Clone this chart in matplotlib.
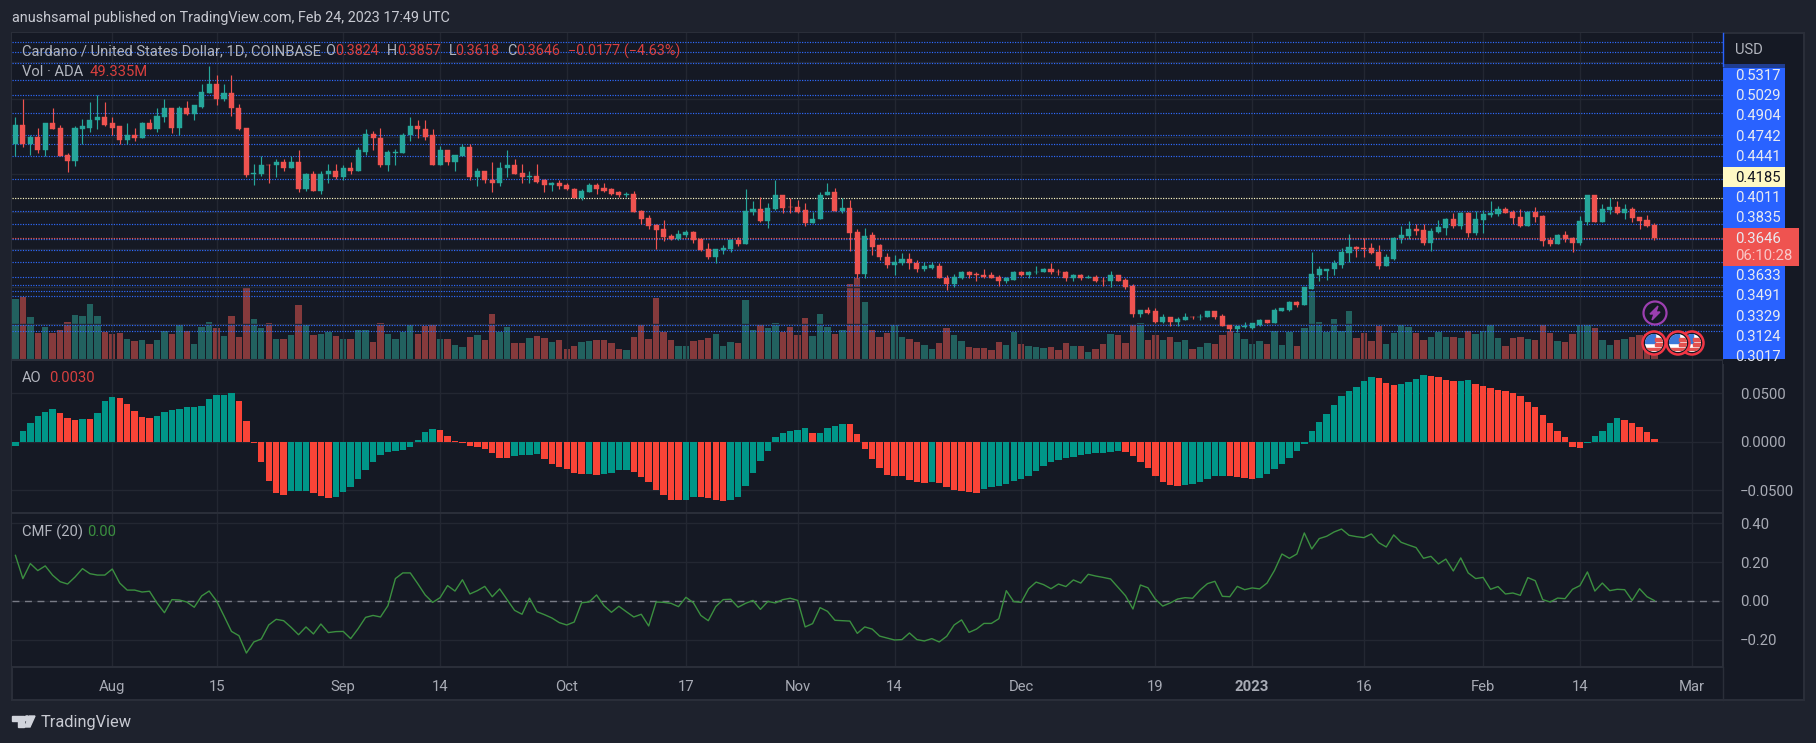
import matplotlib
matplotlib.use('Agg')
from matplotlib import pyplot as plt
import pandas as pd

#Daily candles, first one is Jul 19 2022
dates = pd.date_range('2022-07-19', periods=221)
opens = [.490,.516,.490,.500,.483,.518,.512,.476,.468,.511,.512,.522,.527,.518,.514,.496,.502,.499,.519,.511,.527,.538,.512,.539,.530,.540,.559,.571,.550,.558,
         .539,.512,.450,.451,.463,.462,.467,.458,.466,.431,.451,.428,.450,.454,.446,.459,.454,.480,.504,.499,.462,.478,.479,.502,.514,.511,.503,.463,.482,.466,
         .474,.487,.447,.454,.443,.439,.458,.463,.452,.446,.448,.442,.436,.439,.436,.431,.418,.427,.436,.432,.430,.426,.422,.424,.401,.392,.383,.377,.368,.364,
         .369,.373,.364,.351,.340,.349,.351,.363,.357,.400,.404,.388,.404,.422,.407,.407,.403,.385,.390,.422,.427,.401,.405,.373,.317,.369,.356,.340,.329,.332,
         .337,.332,.324,.325,.328,.312,.304,.312,.319,.317,.316,.315,.313,.307,.309,.320,.315,.319,.320,.323,.320,.319,.311,.316,.312,.313,.308,.307,.315,.309,
         .301,.264,.269,.267,.253,.260,.253,.256,.260,.259,.259,.267,.261,.249,.244,.246,.245,.249,.255,.252,.268,.269,.280,.276,.297,.316,.321,.323,.329,.345,
         .353,.352,.352,.347,.327,.337,.365,.368,.377,.376,.359,.373,.379,.391,.381,.399,.372,.389,.396,.397,.404,.400,.393,.381,.400,.395,.363,.357,.369,.365,
         .359,.387,.422,.387,.403,.407,.399,.404,.393,.389,.3824]
highs = [.527,.550,.503,.512,.519,.538,.516,.479,.514,.524,.546,.556,.546,.527,.515,.518,.512,.520,.524,.538,.551,.538,.541,.548,.543,.570,.595,.583,.571,.583,
         .544,.512,.464,.474,.464,.471,.470,.475,.483,.452,.455,.454,.464,.464,.463,.467,.487,.511,.508,.512,.483,.484,.505,.526,.522,.522,.510,.488,.483,.476,
         .491,.490,.458,.455,.466,.467,.483,.470,.464,.454,.464,.444,.440,.443,.438,.432,.430,.439,.438,.438,.432,.428,.426,.428,.403,.396,.384,.389,.371,.376,
         .376,.375,.365,.358,.351,.356,.364,.367,.431,.414,.420,.412,.442,.423,.418,.416,.412,.400,.427,.439,.432,.418,.416,.377,.379,.373,.357,.345,.343,.345,
         .345,.335,.333,.333,.332,.315,.317,.321,.321,.319,.324,.320,.315,.313,.321,.321,.321,.327,.325,.331,.323,.321,.317,.317,.316,.316,.313,.321,.316,.311,
         .303,.269,.273,.271,.264,.260,.259,.265,.261,.263,.267,.268,.263,.249,.248,.253,.251,.257,.256,.272,.272,.281,.281,.300,.347,.327,.324,.336,.352,.371,
         .355,.365,.359,.356,.344,.367,.381,.388,.384,.384,.379,.389,.392,.399,.400,.400,.401,.403,.415,.408,.407,.403,.404,.401,.406,.396,.367,.371,.375,.367,
         .395,.422,.423,.411,.419,.414,.411,.407,.393,.396,.3857]
lows = [.474,.487,.476,.479,.474,.510,.474,.453,.461,.490,.507,.510,.514,.503,.490,.490,.495,.498,.511,.507,.520,.505,.503,.529,.522,.539,.558,.543,.548,.528,
        .509,.446,.436,.448,.438,.447,.455,.458,.427,.428,.428,.424,.439,.444,.442,.450,.454,.476,.483,.460,.455,.463,.479,.495,.499,.496,.463,.463,.463,.455,
        .474,.442,.434,.439,.427,.435,.447,.450,.439,.438,.439,.426,.428,.430,.429,.419,.416,.427,.424,.427,.423,.420,.420,.400,.384,.377,.351,.361,.363,.363,
        .367,.359,.348,.337,.331,.344,.347,.355,.357,.396,.387,.379,.403,.399,.399,.399,.381,.385,.390,.422,.401,.399,.348,.312,.312,.343,.336,.325,.315,.329,
        .324,.320,.321,.323,.311,.296,.299,.310,.312,.308,.312,.312,.301,.305,.309,.314,.312,.317,.319,.317,.315,.308,.308,.309,.312,.306,.301,.300,.307,.297,
        .260,.260,.264,.251,.252,.248,.248,.256,.257,.256,.259,.257,.248,.241,.240,.245,.244,.248,.252,.252,.267,.268,.273,.276,.297,.308,.309,.316,.325,.333,
        .340,.339,.344,.324,.327,.336,.359,.364,.369,.356,.348,.372,.369,.379,.377,.367,.369,.372,.393,.395,.399,.384,.380,.381,.387,.355,.355,.357,.360,.347,
        .356,.383,.387,.387,.397,.397,.391,.387,.377,.380,.3618]
closes = [.516,.491,.500,.483,.518,.511,.475,.468,.512,.514,.523,.527,.516,.512,.496,.502,.499,.519,.511,.528,.538,.512,.538,.530,.542,.560,.571,.550,.558,.538,
          .511,.449,.452,.463,.462,.467,.458,.466,.431,.451,.428,.451,.454,.446,.459,.454,.482,.504,.498,.462,.480,.480,.503,.514,.510,.500,.463,.482,.466,.476,
          .487,.447,.454,.442,.439,.459,.463,.451,.446,.448,.440,.436,.439,.435,.430,.419,.428,.436,.431,.428,.424,.422,.424,.400,.391,.381,.376,.367,.364,.371,
          .373,.363,.349,.340,.351,.352,.363,.357,.401,.404,.388,.405,.422,.405,.406,.400,.385,.391,.423,.427,.401,.405,.372,.317,.368,.353,.339,.329,.333,.337,
          .331,.324,.327,.329,.312,.304,.313,.319,.316,.315,.313,.312,.307,.311,.320,.315,.320,.320,.324,.319,.319,.311,.316,.312,.313,.307,.307,.315,.308,.300,
          .264,.269,.265,.253,.260,.253,.257,.260,.259,.260,.267,.260,.248,.243,.247,.247,.251,.255,.252,.269,.271,.280,.276,.299,.317,.324,.324,.331,.347,.353,
          .351,.351,.345,.327,.339,.365,.369,.377,.375,.359,.375,.380,.391,.381,.399,.372,.391,.397,.399,.404,.399,.392,.381,.400,.393,.361,.357,.369,.364,.359,
          .388,.422,.387,.404,.407,.399,.404,.392,.388,.381,.3646]
volumes = [122,126,86,53,64,53,59,76,90,88,112,88,55,51,53,41,37,39,31,39,57,51,70,57,31,64,76,62,47,88,
           45,147,82,62,72,41,41,49,110,68,49,51,55,47,41,41,59,59,35,74,51,41,55,70,51,66,68,41,41,29,
           25,45,49,39,92,55,64,33,33,43,47,43,35,39,21,27,35,37,39,39,33,21,19,45,70,41,124,55,39,27,
           27,37,39,43,51,27,35,33,120,59,70,62,72,55,64,49,84,47,92,64,51,59,153,165,116,59,45,53,68,45,
           41,35,29,21,33,62,49,37,25,23,23,19,35,29,55,31,27,25,23,25,19,33,27,27,15,21,31,51,49,33,
           68,72,39,49,39,45,35,39,21,25,33,31,49,57,53,41,31,37,31,57,29,55,27,62,137,76,55,82,57,98,
           43,53,37,66,31,53,70,64,53,39,45,55,45,45,43,57,51,57,68,43,27,43,45,41,39,70,53,37,35,51,
           68,68,62,39,29,39,41,45,49,51,49]

#Awesome oscillator
ao = [-.0042,.0111,.0194,.0267,.0309,.0340,.0298,.0246,.0226,.0236,.0235,.0298,.0423,.0465,.0455,.0392,.0319,.0257,.0246,.0267,
      .0309,.0330,.0340,.0361,.0362,.0371,.0444,.0486,.0487,.0507,.0423,.0215,-.0010,-.0212,-.0409,-.0534,-.0555,-.0514,-.0513,-.0512,
      -.0534,-.0566,-.0586,-.0576,-.0524,-.0472,-.0389,-.0295,-.0212,-.0139,-.0108,-.0097,-.0087,-.0056,.0017,.0101,.0132,.0121,.0059,.0007,
      -.0014,-.0045,-.0056,-.0076,-.0118,-.0170,-.0171,-.0149,-.0139,-.0138,-.0128,-.0180,-.0232,-.0264,-.0285,-.0326,-.0337,-.0336,-.0347,-.0337,
      -.0326,-.0295,-.0294,-.0316,-.0368,-.0420,-.0503,-.0555,-.0607,-.0608,-.0607,-.0576,-.0577,-.0586,-.0607,-.0618,-.0607,-.0576,-.0462,-.0326,
      -.0201,-.0097,.0049,.0090,.0111,.0121,.0142,.0090,.0091,.0142,.0163,.0184,.0183,.0080,-.0076,-.0180,-.0274,-.0347,-.0357,-.0358,
      -.0399,-.0420,-.0430,-.0420,-.0430,-.0472,-.0503,-.0514,-.0524,-.0534,-.0493,-.0472,-.0462,-.0441,-.0409,-.0389,-.0357,-.0305,-.0253,-.0212,
      -.0191,-.0170,-.0160,-.0139,-.0128,-.0118,-.0117,-.0108,-.0097,-.0108,-.0149,-.0212,-.0274,-.0357,-.0420,-.0451,-.0462,-.0451,-.0441,-.0420,
      -.0389,-.0357,-.0350,-.0357,-.0368,-.0378,-.0389,-.0378,-.0337,-.0285,-.0232,-.0170,-.0097,-.0024,.0111,.0205,.0288,.0382,.0475,.0527,
      .0569,.0632,.0673,.0663,.0611,.0590,.0600,.0621,.0652,.0694,.0684,.0673,.0642,.0632,.0633,.0634,.0600,.0579,.0559,.0538,
      .0527,.0507,.0475,.0413,.0361,.0278,.0194,.0111,.0049,-.0056,-.0066,-.0014,.0059,.0111,.0194,.0246,.0226,.0194,.0153,.0101,.0030]

#Chaikin money flow
cmf = [.234,.115,.192,.156,.180,.132,.099,.087,.123,.166,.140,.133,.133,.164,.092,.056,.056,.046,.050,-.010,
       -.060,.007,.005,-.005,-.032,.026,.051,0,-.077,-.156,-.178,-.267,-.210,-.195,-.123,-.094,-.101,-.135,-.173,-.133,
       -.169,-.118,-.162,-.157,-.156,-.193,-.142,-.084,-.074,-.082,-.024,.115,.144,.144,.089,.031,-.007,.017,.079,.051,
       .109,.036,.053,.075,.022,.062,.007,-.048,-.068,.015,-.055,-.070,-.087,-.111,-.123,-.108,-.009,-.005,.031,-.024,
       -.058,-.027,-.055,-.082,-.068,-.128,-.005,-.007,-.012,-.029,.019,-.009,-.074,-.101,-.029,.007,.009,-.032,-.012,.003,
       -.043,-.002,-.010,.007,.014,.003,-.133,-.116,-.034,-.053,-.099,-.101,-.103,-.166,-.133,-.144,-.180,-.190,-.200,-.198,
       -.164,-.198,-.205,-.193,-.210,-.181,-.123,-.097,-.161,-.144,-.115,-.115,-.091,.053,-.003,-.007,.063,.097,.084,.063,
       .087,.074,.108,.092,.137,.128,.121,.113,.070,.027,-.041,.082,.068,.010,-.026,-.010,.010,.017,.014,.056,
       .089,.101,.024,.022,.075,.058,.067,.062,.092,.157,.241,.219,.241,.349,.267,.320,.332,.354,.369,.337,
       .330,.325,.344,.299,.277,.339,.301,.287,.274,.219,.229,.190,.215,.154,.221,.144,.115,.121,.060,.074,
       .036,.041,.029,.120,.104,.007,-.005,.015,.012,.060,.079,.149,.051,.092,.053,.060,.058,.003,.063,.022,.002]

#Horizontal levels someone drew on the chart
levels = [.6267,.6133,.5987,.5760,.5559,.5317,.5029,.4904,.4742,.4441,.4011,.3835,.3633,.3491,.3329,.3124,.3017,.2943,.2876,.2489,.2409]
last_high = .4185
last_close = .3646

tick_dates = ['2022-08-01','2022-08-15','2022-09-01','2022-09-14','2022-10-01','2022-10-17','2022-11-01','2022-11-14',
              '2022-12-01','2022-12-19','2023-01-01','2023-01-16','2023-02-01','2023-02-14','2023-03-01']
tick_labels = ['Aug','15','Sep','14','Oct','17','Nov','14','Dec','19','2023','16','Feb','14','Mar']
price_labels = ['0.5317','0.5029','0.4904','0.4742','0.4441','0.4185','0.4011','0.3835','0.3646','0.3633','0.3491','0.3329','0.3124','0.3017']

plt.rcParams['font.family'] = 'Roboto'

x = list(range(len(dates)))
tick_x = [(pd.Timestamp(d) - dates[0]).days for d in tick_dates]
up = [c >= o for o, c in zip(opens, closes)]
candle_colors = ['#26a69a' if u else '#ef5350' for u in up]
volume_colors = ['#22615f' if u else '#853a3c' for u in up]
ao_colors = ['#009688' if i == 0 or ao[i] > ao[i - 1] else '#f94437' for i in range(len(ao))]

pane = '#151924'
grid = '#232732'
axis_text = '#a8abb5'
left, right = 12 / 1816, 1711 / 1816
xmin, xmax = -0.46, 229.2

plt.figure(figsize=(18.16, 7.43), dpi=100, facecolor='#1e222d')

#Back panel, holds the time axis and the price column
plt.axes([left, 1 - 700 / 743, 1792 / 1816, 667 / 743], facecolor=pane)
plt.xticks([])
plt.yticks([])
for s in plt.gca().spines.values():
    s.set_color('#2a2e39')
    s.set_linewidth(1.5)

# Volume, under the candles
plt.axes([left, 1 - 359 / 743, right, 326 / 743], facecolor=pane)
plt.bar(x, volumes, width=0.86, color=volume_colors)
plt.xlim(xmin, xmax)
plt.ylim(0, 661)
plt.xticks([])
plt.yticks([])
for s in plt.gca().spines.values():
    s.set_visible(False)

# Candles
plt.axes([left, 1 - 359 / 743, right, 326 / 743], facecolor='none')
plt.grid(color=grid, linewidth=1)
plt.gca().set_axisbelow(True)
dots = (0, (1, 1.2))
plt.hlines(levels, xmin, xmax, colors='#2f6bff', linewidth=0.85, linestyles=dots, snap=True)
plt.hlines(last_high, xmin, xmax, colors='#fff9c4', linewidth=0.85, linestyles=dots, snap=True)
plt.hlines(last_close, xmin, xmax, colors='#ef5350', linewidth=0.85, linestyles=dots, snap=True)
plt.vlines(x, lows, highs, colors=candle_colors, linewidth=0.85, zorder=3)
plt.bar(x, [abs(c - o) for o, c in zip(opens, closes)], bottom=[min(o, c) for o, c in zip(opens, closes)],
        width=0.68, color=candle_colors, edgecolor=candle_colors, linewidth=0.3, zorder=4)
plt.xlim(xmin, xmax)
plt.ylim(0.2035, 0.6387)
plt.xticks(tick_x)
plt.yticks([.25, .30, .35, .40, .45, .50, .55, .60])
plt.tick_params(length=0, labelbottom=False, labelleft=False)
for s in plt.gca().spines.values():
    s.set_visible(False)

# Awesome oscillator
plt.axes([left, 1 - 513 / 743, right, 153.5 / 743], facecolor=pane)
plt.bar(x, ao, width=0.86, color=ao_colors, zorder=3)
plt.xlim(xmin, xmax)
plt.ylim(-.0738, .0851)
plt.xticks(tick_x)
plt.yticks([-.05, 0, .05], ['\u22120.0500', '0.0000', '0.0500'])
plt.grid(color=grid, linewidth=1)
plt.tick_params(length=0, labelbottom=False, labelleft=False, labelright=True, labelcolor=axis_text, labelsize=10.7, pad=12)
for s in plt.gca().spines.values():
    s.set_color('#2a2e39')
    s.set_linewidth(1.5)
plt.gca().spines['left'].set_visible(False)

# Chaikin money flow
plt.axes([left, 1 - 667 / 743, right, 154 / 743], facecolor=pane)
plt.plot(x, cmf, color='#3b8f40', linewidth=1, zorder=3)
plt.axhline(0, color='#787b86', linewidth=1, linestyle=(0, (5, 4)))
plt.xlim(xmin, xmax)
plt.ylim(-.3385, .4513)
plt.xticks(tick_x, tick_labels)
plt.yticks([-.2, 0, .2, .4], ['\u22120.20', '0.00', '0.20', '0.40'])
plt.grid(color=grid, linewidth=1)
plt.tick_params(length=0, labelright=True, labelleft=False, labelcolor=axis_text, labelsize=10.7, pad=12)
plt.tick_params(axis='x', pad=9.5)
plt.gca().get_xticklabels()[10].set_fontweight('bold')
for s in plt.gca().spines.values():
    s.set_color('#2a2e39')
    s.set_linewidth(1.5)
plt.gca().spines['left'].set_visible(False)

#Overlay in figure pixels for the chrome: titles, price labels, icons
plt.axes([0, 0, 1, 1], facecolor='none')
plt.xlim(0, 1816)
plt.ylim(743, 0)
plt.axis('off')

plt.text(12, 18, 'anushsamal published on TradingView.com, Feb 24, 2023 17:49 UTC', color='#c8cad2', fontsize=10.4, va='center')
plt.text(22, 51, 'Cardano / United States Dollar, 1D, COINBASE', color='#b2b5be', fontsize=10.6, va='center')
for px, word, col in [(325, 'O', '#b2b5be'), (335, '0.3824', '#d8403f'), (387, 'H', '#b2b5be'), (397, '0.3857', '#d8403f'),
                      (449, 'L', '#b2b5be'), (455, '0.3618', '#d8403f'), (507, 'C', '#b2b5be'), (516, '0.3646', '#d8403f'),
                      (568, '\u22120.0177 (\u22124.63%)', '#d8403f')]:
    plt.text(px, 51, word, color=col, fontsize=10.4, va='center')
plt.text(22, 72, 'Vol \u00b7 ADA', color='#b2b5be', fontsize=10.6, va='center')
plt.text(90, 72, '49.335M', color='#d8403f', fontsize=10.6, va='center')
plt.text(22, 378, 'AO', color='#b2b5be', fontsize=10.6, va='center')
plt.text(49, 378, '0.0030', color='#d8403f', fontsize=10.6, va='center')
plt.text(22, 532, 'CMF (20)', color='#b2b5be', fontsize=10.6, va='center')
plt.text(87, 532, '0.00', color='#3b8f40', fontsize=10.6, va='center')
plt.text(1735, 50, 'USD', color='#b2b5be', fontsize=10.6, va='center')

#Price column
plt.plot([1723, 1723], [33, 66], color='#2962ff', linewidth=1)
plt.plot([1723, 1723], [667, 700], color='#2a2e39', linewidth=1)
plt.fill_between([1723, 1785], 68, 359, color='#2962ff', linewidth=0)
plt.fill_between([1723, 1785], 64, 68, color='#2962ff', alpha=0.5, linewidth=0)
plt.fill_between([1723, 1785], 167, 187, color='#fff9c4', linewidth=0)
plt.fill_between([1723, 1799], 228, 266, color='#ef5350', linewidth=0)
label_y = [76, 96, 116, 137, 157, 178, 198, 218, 239, 276, 296, 317, 337, 357]
for lab, ly in zip(price_labels, label_y):
    plt.text(1735, ly, lab, color='#131722' if lab == '0.4185' else '#e8eaf2', fontsize=10.7, va='center')
plt.text(1735, 256, '06:10:28', color='#f8c8c8', fontsize=10.7, va='center')
plt.fill_between([1723, 1785], 359.5, 364, color=pane, linewidth=0)

#Icons
plt.gca().add_patch(plt.Circle((1655, 313), 11.5, facecolor='none', edgecolor='#9c3fb0', linewidth=1.6))
plt.fill([1658, 1650, 1654, 1652, 1660, 1656], [306, 314, 314, 320, 312, 312], color='#9c3fb0')
for cx in [1692, 1678, 1654]:
    plt.gca().add_patch(plt.Circle((cx, 343), 11.5, facecolor='#131722', edgecolor='#f23645', linewidth=1.8))
    disc = plt.Circle((cx, 343), 9, facecolor='white', linewidth=0)
    plt.gca().add_patch(disc)
    for r in [plt.Rectangle((cx - 9, 334), 10, 9, color='#3c78d8'),
              plt.Rectangle((cx + 1, 338), 9, 2.5, color='#e2514f'),
              plt.Rectangle((cx + 1, 343), 9, 2.5, color='#e2514f'),
              plt.Rectangle((cx - 9, 347.5), 18, 2.5, color='#e2514f')]:
        plt.gca().add_patch(r)
        r.set_clip_path(disc)

#Logo at the bottom
plt.fill([12, 24, 24, 18, 18, 12], [716, 716, 727, 727, 721, 721], color='#d1d4dc')
plt.gca().add_patch(plt.Circle((27, 718.5), 2.6, color='#d1d4dc'))
plt.fill([29.5, 35, 30, 24.5], [716, 716, 727, 727], color='#d1d4dc')
plt.text(41, 723, 'TradingView', color='#c8cad2', fontsize=11.8, va='center')

plt.savefig('out.png', dpi=100, facecolor=plt.gcf().get_facecolor())
